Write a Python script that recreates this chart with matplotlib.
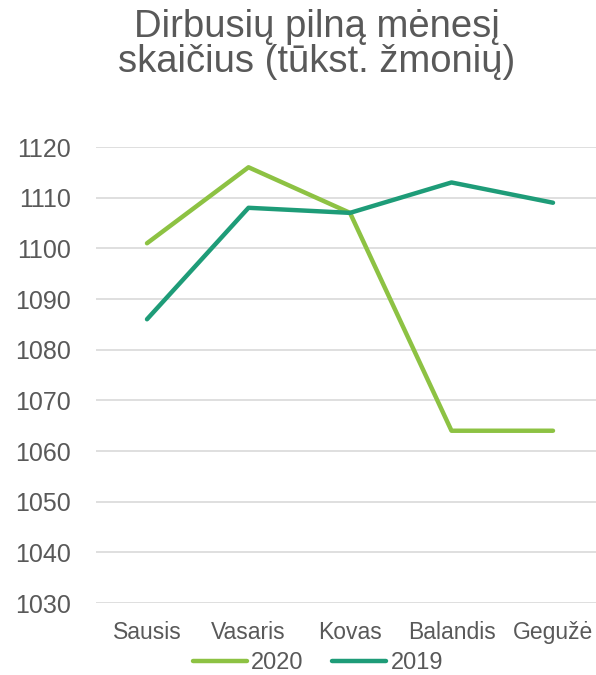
import matplotlib.pyplot as plt

months = ['Sausis', 'Vasaris', 'Kovas', 'Balandis', 'Gegužė']
y2020 = [1101, 1116, 1107, 1064, 1064]
y2019 = [1086, 1108, 1107, 1113, 1109]
yticks = list(range(1030, 1121, 10))

plt.rcParams['font.family'] = ['Liberation Sans', 'DejaVu Sans']
grey = '#595959'

fig = plt.figure(figsize=(5.96, 6.75), dpi=100)
ax = fig.add_axes([96.25 / 596, 1 - 603 / 675, 507.5 / 596, (603 - 147) / 675])

x = range(len(months))
l1, = ax.plot(x, y2020, color='#8DC243', lw=3.2, solid_capstyle='round', solid_joinstyle='round', label='2020', zorder=3)
l2, = ax.plot(x, y2019, color='#1E9C78', lw=3.2, solid_capstyle='round', solid_joinstyle='round', label='2019', zorder=3)

ax.set_xlim(-0.5, len(months) - 0.5)
ax.set_ylim(1030, 1120)
ax.set_yticks(yticks)
ax.set_xticks(list(x))
ax.set_xticklabels(months)
ax.grid(axis='y', color='#D9D9D9', lw=1.2)
ax.set_axisbelow(True)
for s in ax.spines.values():
    s.set_visible(False)
ax.tick_params(axis='y', length=0, labelsize=18, colors=grey, pad=18)
ax.tick_params(axis='x', length=0, labelsize=16.5, colors=grey, pad=13)

# title, two lines placed on their baselines
fig.text(317 / 596, 1 - 37 / 675, 'Dirbusių pilną mėnesį',
         ha='center', va='baseline', fontsize=27.5, color=grey)
fig.text(317 / 596, 1 - 72 / 675, 'skaičius (tūkst. žmonių)',
         ha='center', va='baseline', fontsize=27.5, color=grey)

fig.legend(handles=[l1, l2], loc='center', bbox_to_anchor=(318 / 596, 1 - 663 / 675),
           ncol=2, frameon=False, fontsize=17, labelcolor=grey,
           handlelength=2.3, handletextpad=0.17, columnspacing=1.2)

fig.savefig('out.png', dpi=100)
